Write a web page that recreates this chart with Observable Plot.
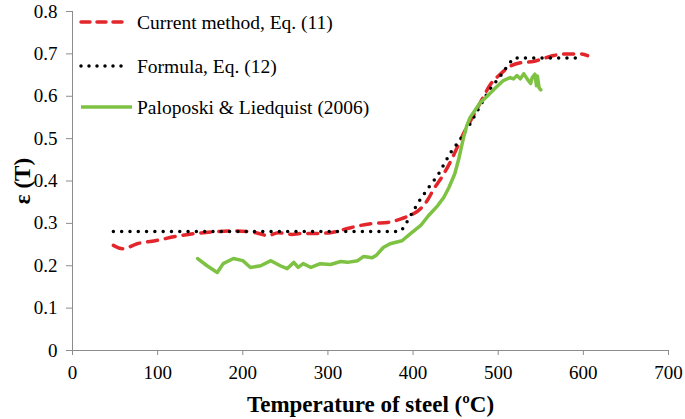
<!DOCTYPE html>
<html>
<head>
<meta charset="utf-8">
<script src="https://cdn.jsdelivr.net/npm/d3@7"></script>
<script src="https://cdn.jsdelivr.net/npm/@observablehq/plot@0.6"></script>
<style>
  html, body { margin: 0; padding: 0; background: #fff; }
  #wrap { position: relative; width: 685px; height: 419px; }
  #legend { position: absolute; left: 0; top: 0; }
</style>
</head>
<body>
<div id="wrap"></div>
<script>
// ---- Data ----
const seriesNames = ["Current method, Eq. (11)", "Formula, Eq. (12)", "Paloposki & Liedquist (2006)"];

const currentX = [48, 59, 76, 97, 121, 144, 165, 190, 210, 221, 229, 242, 258, 268, 280, 303, 323, 338, 354, 370, 385, 393, 409, 417, 424, 434, 445, 452, 460, 467, 479, 491, 503, 511, 526, 541, 553, 565, 581, 597, 605];
const currentY = [0.248, 0.24, 0.252, 0.259, 0.269, 0.276, 0.28, 0.282, 0.28, 0.275, 0.271, 0.278, 0.274, 0.276, 0.276, 0.278, 0.288, 0.295, 0.3, 0.302, 0.31, 0.316, 0.335, 0.355, 0.38, 0.41, 0.45, 0.48, 0.515, 0.54, 0.585, 0.628, 0.653, 0.667, 0.679, 0.682, 0.689, 0.696, 0.7, 0.7, 0.696];

const formulaX = [48, 385, 389, 397, 406, 418, 429, 444, 456, 467, 479, 489, 503, 511, 518, 600];
const formulaY = [0.281, 0.281, 0.29, 0.318, 0.349, 0.384, 0.413, 0.467, 0.5, 0.535, 0.578, 0.613, 0.649, 0.672, 0.69, 0.69];

const paloX = [147, 158, 170, 177, 189, 200, 209, 221, 233, 244, 252, 260, 265, 271, 280, 291, 303, 315, 323, 335, 342, 352, 357, 365, 373, 387, 397, 409, 418, 429, 436, 442, 449, 454, 459, 463, 467, 479, 487, 497, 506, 514, 518, 522, 526, 530, 534, 538, 540, 543, 545, 546, 548, 550];
const paloY = [0.217, 0.2, 0.184, 0.205, 0.217, 0.212, 0.196, 0.2, 0.212, 0.2, 0.193, 0.208, 0.196, 0.205, 0.196, 0.205, 0.203, 0.21, 0.208, 0.212, 0.222, 0.219, 0.225, 0.243, 0.252, 0.259, 0.276, 0.295, 0.318, 0.342, 0.361, 0.384, 0.417, 0.455, 0.5, 0.53, 0.55, 0.585, 0.6, 0.62, 0.637, 0.644, 0.641, 0.649, 0.641, 0.653, 0.641, 0.63, 0.644, 0.652, 0.625, 0.648, 0.62, 0.615];

const xTicks = [0, 100, 200, 300, 400, 500, 600, 700];
const yTicks = [0, 0.1, 0.2, 0.3, 0.4, 0.5, 0.6, 0.7, 0.8];
const xLabel = "Temperature of steel (ºC)";
const yLabel = "ε (T)";

const colors = ["#e3262b", "#000000", "#7dc242"];

const toRows = (xs, ys) => xs.map((x, i) => ({x, y: ys[i]}));
const current = toRows(currentX, currentY);
const formula = toRows(formulaX, formulaY);
const palo = toRows(paloX, paloY);

const axisColor = "#8c8c8c";
const serif = "'Liberation Serif', 'Times New Roman', serif";

const chart = Plot.plot({
  width: 685,
  height: 419,
  marginLeft: 72,
  marginRight: 17,
  marginTop: 11,
  marginBottom: 69,
  style: { fontFamily: serif, fontSize: "19px", background: "#fff", color: "#000" },
  x: { domain: [0, 700] },
  y: { domain: [0, 0.8] },
  marks: [
    Plot.ruleY([0], { x1: 0, x2: 700, stroke: axisColor, strokeWidth: 1 }),
    Plot.ruleX([0], { y1: 0, y2: 0.8, stroke: axisColor, strokeWidth: 1 }),
    Plot.axisX({ ticks: xTicks, tickSize: 5, tickPadding: 10, stroke: axisColor, fill: "#000", label: null, fontSize: 19, tickFormat: d => String(d) }),
    Plot.axisY({ ticks: yTicks, tickSize: 6, tickPadding: 9, stroke: axisColor, fill: "#000", label: null, fontSize: 19, tickFormat: d => d === 0 ? "0" : d3.format(".1f")(d) }),
    Plot.line(current, { x: "x", y: "y", stroke: colors[0], strokeWidth: 3.5, strokeDasharray: "10 8", strokeLinecap: "round", curve: "monotone-x" }),
    Plot.line(formula, { x: "x", y: "y", stroke: colors[1], strokeWidth: 3.5, strokeDasharray: "0 8.3", strokeLinecap: "round" }),
    Plot.line(palo, { x: "x", y: "y", stroke: colors[2], strokeWidth: 3.5, strokeLinejoin: "round" }),
    Plot.text([xLabel], { frameAnchor: "bottom", dy: 54, lineAnchor: "middle", textAnchor: "middle", fontWeight: "bold", fontSize: 23, fill: "#000" }),
    Plot.text([yLabel], { frameAnchor: "left", dx: -50, rotate: -90, lineAnchor: "middle", textAnchor: "middle", fontWeight: "bold", fontSize: 23, fill: "#000" })
  ]
});

const wrap = document.getElementById("wrap");
wrap.appendChild(chart);

// ---- Legend overlay ----
const legendRows = [
  { name: seriesNames[0], color: colors[0], dash: "9 7", cap: "round", x2: 125, y: 22 },
  { name: seriesNames[1], color: colors[1], dash: "0 8", cap: "round", x2: 125, y: 66 },
  { name: seriesNames[2], color: colors[2], dash: null, cap: "butt", x2: 132, y: 107 }
];
const lg = d3.create("svg").attr("id", "legend").attr("width", 420).attr("height", 130)
  .style("font-family", serif).style("font-size", "19.5px");
const g = lg.selectAll("g").data(legendRows).join("g");
g.append("line")
  .attr("x1", 81).attr("x2", d => d.x2).attr("y1", d => d.y).attr("y2", d => d.y)
  .attr("stroke", d => d.color).attr("stroke-width", 3.5)
  .attr("stroke-dasharray", d => d.dash).attr("stroke-linecap", d => d.cap);
g.append("text")
  .attr("x", 137).attr("y", d => d.y).attr("dy", "0.35em")
  .attr("fill", "#000").text(d => d.name);
wrap.appendChild(lg.node());
</script>
</body>
</html>
